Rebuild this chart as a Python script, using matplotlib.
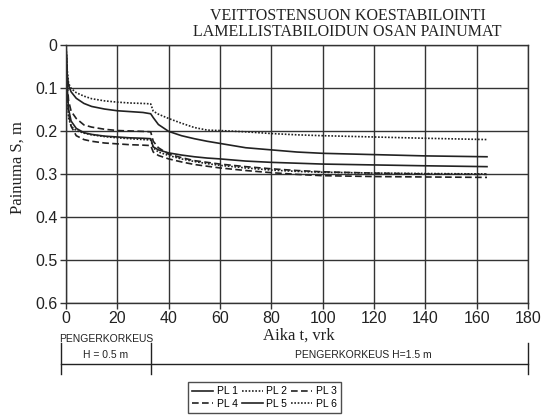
import matplotlib
matplotlib.use("Agg")
import matplotlib.pyplot as plt
from matplotlib.ticker import FuncFormatter

# aika t (vrk) ja painumat S (m), luettu kuvasta
t_days = [0, 0.5, 1, 2, 4, 7, 10, 15, 20, 25, 30, 33, 34, 36, 40, 45, 50,
          55, 60, 70, 80, 90, 100, 120, 140, 164]
pl1 = [0, 0.07, 0.095, 0.11, 0.125, 0.137, 0.144, 0.15, 0.154, 0.156, 0.158,
       0.161, 0.17, 0.186, 0.202, 0.212, 0.219, 0.225, 0.23, 0.24, 0.245,
       0.25, 0.253, 0.256, 0.259, 0.261]
pl2 = [0, 0.06, 0.09, 0.102, 0.112, 0.12, 0.126, 0.131, 0.134, 0.136, 0.137,
       0.138, 0.155, 0.162, 0.172, 0.183, 0.193, 0.199, 0.2, 0.203, 0.207,
       0.21, 0.212, 0.215, 0.218, 0.221]
pl3 = [0, 0.09, 0.13, 0.155, 0.172, 0.187, 0.192, 0.197, 0.2, 0.201, 0.202,
       0.203, 0.225, 0.24, 0.255, 0.263, 0.27, 0.274, 0.278, 0.284, 0.289,
       0.293, 0.296, 0.299, 0.301, 0.302]
pl4 = [0, 0.11, 0.16, 0.19, 0.212, 0.221, 0.225, 0.229, 0.231, 0.233, 0.234,
       0.235, 0.25, 0.258, 0.266, 0.273, 0.279, 0.283, 0.287, 0.293, 0.298,
       0.302, 0.305, 0.307, 0.308, 0.309]
pl5 = [0, 0.1, 0.15, 0.178, 0.195, 0.205, 0.209, 0.213, 0.215, 0.217, 0.218,
       0.219, 0.238, 0.245, 0.252, 0.257, 0.261, 0.264, 0.266, 0.271, 0.274,
       0.276, 0.278, 0.28, 0.282, 0.284]
pl6 = [0, 0.12, 0.17, 0.19, 0.2, 0.206, 0.21, 0.214, 0.217, 0.219, 0.221,
       0.222, 0.24, 0.25, 0.258, 0.266, 0.272, 0.277, 0.281, 0.287, 0.292,
       0.295, 0.297, 0.299, 0.3, 0.301]

labels = ["PL 1", "PL 2", "PL 3", "PL 4", "PL 5", "PL 6"]
series = [pl1, pl2, pl3, pl4, pl5, pl6]
styles = ["-", (0, (1, 1)), (0, (4, 2)), (0, (4, 2)), "-", (0, (1, 1))]

x_ticks = [0, 20, 40, 60, 80, 100, 120, 140, 160, 180]
y_ticks = [0, 0.1, 0.2, 0.3, 0.4, 0.5, 0.6]
stage_change = 33  # pengerkorkeus nostettiin

INK = "#222222"
SERIF = "Liberation Serif"
SANS = "Liberation Sans"

fig = plt.figure(figsize=(5.43, 4.15), dpi=100)
ax = fig.add_axes([0.1215, 0.271, 0.851, 0.6217])

lines = []
for y, ls, lab in zip(series, styles, labels):
    ln, = ax.plot(t_days, y, color=INK, linestyle=ls, linewidth=1.2, label=lab)
    lines.append(ln)

ax.set_xlim(0, 180)
ax.set_ylim(0.6, 0)
ax.set_xticks(x_ticks)
ax.set_yticks(y_ticks)
ax.yaxis.set_major_formatter(FuncFormatter(lambda v, p: "0" if v == 0 else "%.1f" % v))
ax.grid(True, color="#333333", linewidth=1.0)
for s in ax.spines.values():
    s.set_color("#333333")
    s.set_linewidth(1.0)
ax.tick_params(direction="out", length=4, width=1, color="#333333", pad=2)
for lab in ax.get_xticklabels() + ax.get_yticklabels():
    lab.set_fontfamily(SANS)
    lab.set_fontsize(11.5)
    lab.set_color(INK)

fig.text(0.64, 1 - 15.5 / 415, "VEITTOSTENSUON KOESTABILOINTI", ha="center", va="center",
         family=SERIF, fontsize=11.5, color=INK)
fig.text(0.64, 1 - 32 / 415, "LAMELLISTABILOIDUN OSAN PAINUMAT", ha="center", va="center",
         family=SERIF, fontsize=11.5, color=INK)
fig.text(18 / 543, 1 - 168 / 415, "Painuma S, m", rotation=90, ha="center", va="center",
         family=SERIF, fontsize=12, color=INK)
fig.text(299 / 543, 1 - 336 / 415, "Aika t, vrk", ha="center", va="center",
         family=SERIF, fontsize=12, color=INK)

# pengerkorkeus-jana akselin alla
tr = ax.get_xaxis_transform()
y_bar = -(364 - 302.5) / 258
y_top = -(343 - 302.5) / 258
y_bot = -(374 - 302.5) / 258
ax.plot([-2, 180], [y_bar, y_bar], transform=tr, color=INK, lw=1, clip_on=False)
for xb in [-2, stage_change, 180]:
    ax.plot([xb, xb], [y_top, y_bot], transform=tr, color=INK, lw=1, clip_on=False)
y_txt = -(355 - 302.5) / 258
ax.text((stage_change - 2) / 2, -(338.5 - 302.5) / 258, "PENGERKORKEUS", transform=tr,
        ha="center", va="center", family=SANS, fontsize=7.5, color=INK)
ax.text((stage_change - 2) / 2, y_txt, "H = 0.5 m", transform=tr,
        ha="center", va="center", family=SANS, fontsize=7.5, color=INK)
ax.text(116, y_txt, "PENGERKORKEUS H=1.5 m", transform=tr,
        ha="center", va="center", family=SANS, fontsize=7.5, color=INK)

order = [0, 3, 1, 4, 2, 5]
leg = fig.legend([lines[i] for i in order], [labels[i] for i in order], ncol=3,
                 loc="center", bbox_to_anchor=(264.5 / 543, 1 - 397.5 / 415),
                 prop={"family": SANS, "size": 7.5}, frameon=True, fancybox=False,
                 handlelength=2.0, handletextpad=0.35, columnspacing=0.4,
                 labelspacing=0.2, borderpad=0.4)
leg.get_frame().set_edgecolor(INK)
leg.get_frame().set_linewidth(1.0)

fig.savefig("out.png", dpi=100)
